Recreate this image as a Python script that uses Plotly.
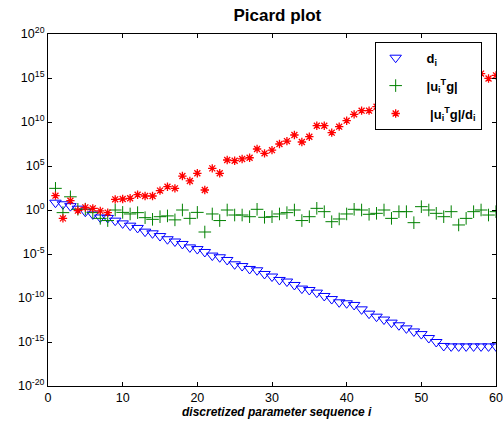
import plotly.graph_objects as go

# parameter index
idx = list(range(1, 61))

# log10 of d_i (singular values)
log10_d = [0.83, 0.65, 0.44, 0.15, -0.2, -0.5, -0.85, -0.9, -1.21, -1.52,
           -1.78, -2.04, -2.46, -2.65, -2.96, -3.32, -3.58, -3.86, -4.25, -4.44,
           -4.77, -5.18, -5.37, -5.68, -6.17, -6.37, -6.7, -6.85, -7.27, -7.56,
           -7.95, -8.13, -8.52, -8.93, -9.09, -9.39, -9.77, -10.12, -10.49, -10.6,
           -10.79, -11.29, -11.78, -12.12, -12.45, -12.8, -13.1, -13.45, -13.8, -14.1,
           -14.55, -15.0, -15.45, -15.5, -15.5, -15.5, -15.5, -15.5, -15.5, -15.5]

# log10 of |u_i^T g|
log10_utg = [2.46, -0.3, 1.5, 0.08, 0.1, -0.3, -0.95, -1.2, 0.0, -0.27,
             -0.45, -0.3, -0.87, -1.06, -0.76, -0.67, -1.12, 0.0, -0.95, -0.27,
             -2.5, -0.45, -1.2, 0.0, -0.57, -0.57, -0.76, 0.08, -0.83, -0.76,
             -0.45, -0.3, 0.0, -1.2, -0.76, 0.19, -0.19, -1.33, -1.02, -0.45,
             0.08, 0.0, -0.49, -0.38, 0.0, -0.95, -0.19, -0.19, -1.44, 0.38,
             0.0, -0.38, -0.76, -0.19, -1.7, -0.95, -0.19, 0.0, -0.57, -0.19]

# log10 of |u_i^T g| / d_i
log10_ratio = [1.63, -0.95, 1.06, -0.07, 0.3, 0.19, -0.1, -0.3, 1.21, 1.25,
               1.33, 1.74, 1.59, 1.59, 2.2, 2.65, 2.46, 3.86, 3.3, 4.17,
               2.27, 4.73, 4.17, 5.68, 5.6, 5.8, 5.94, 6.93, 6.44, 6.8,
               7.5, 7.83, 8.52, 7.73, 8.33, 9.58, 9.58, 8.79, 9.47, 10.15,
               10.87, 11.29, 11.29, 11.74, 12.45, 11.85, 12.9, 13.25, 12.35, 14.5,
               14.55, 14.6, 14.7, 15.3, 13.8, 14.55, 15.3, 15.5, 14.95, 15.3]

d_vals = [10 ** v for v in log10_d]
utg_vals = [10 ** v for v in log10_utg]
ratio_vals = [10 ** v for v in log10_ratio]

x_ticks = [0, 10, 20, 30, 40, 50, 60]
y_exps = [-20, -15, -10, -5, 0, 5, 10, 15, 20]
y_tickvals = [10.0 ** e for e in y_exps]
y_ticktext = ["10<sup>%d</sup>" % e for e in y_exps]

FONT = "Liberation Sans, Arial, sans-serif"

W, H = 503, 425

fig = go.Figure()
fig.add_trace(go.Scatter(
    x=idx, y=d_vals, mode="markers", name="   <b>d<sub>i</sub></b>",
    legendgroup="a",
    marker=dict(symbol="triangle-down-open", size=10, color="rgb(0,0,255)",
                line=dict(width=1, color="rgb(0,0,255)"))))
fig.add_trace(go.Scatter(
    x=idx, y=utg_vals, mode="markers", name="   <b>|u<sub>i</sub><sup>T</sup>g|</b>",
    legendgroup="b",
    marker=dict(symbol="cross-thin-open", size=9, color="rgb(0,128,0)",
                line=dict(width=1, color="rgb(0,128,0)"))))
fig.add_trace(go.Scatter(
    x=idx, y=ratio_vals, mode="markers",
    name="    <b>|u<sub>i</sub><sup>T</sup>g|/d<sub>i</sub></b>",
    legendgroup="c",
    marker=dict(symbol="asterisk-open", size=7, color="rgb(255,0,0)",
                line=dict(width=1.3, color="rgb(255,0,0)"))))

axis_common = dict(showline=True, linecolor="black", linewidth=1, mirror="ticks",
                   ticks="inside", ticklen=4, tickcolor="black", showgrid=False,
                   zeroline=False, automargin=False, ticklabeloverflow="allow",
                   tickfont=dict(family=FONT, size=12.5, color="black"))

fig.update_layout(
    width=W, height=H,
    margin=dict(l=48, r=7, t=34, b=39, autoexpand=False),
    paper_bgcolor="white", plot_bgcolor="white",
    font=dict(family=FONT, color="black"),
    title=dict(text="<b>Picard plot</b>", x=0.512, xref="paper", xanchor="center",
               y=1 - 15 / H, yref="container", yanchor="middle",
               font=dict(family=FONT, size=17, color="black")),
    xaxis=dict(range=[0, 60], tickvals=x_ticks, **axis_common),
    yaxis=dict(type="log", range=[-20, 20], tickvals=y_tickvals, ticktext=y_ticktext,
               **axis_common),
    legend=dict(x=0.968, xanchor="right", y=0.978, yanchor="top",
                bgcolor="white", bordercolor="black", borderwidth=1,
                font=dict(family=FONT, size=13, color="black"),
                traceorder="grouped", tracegroupgap=8),
    showlegend=True,
    annotations=[dict(text="<b><i>discretized parameter sequence i</i></b>",
                      x=0.511, xref="paper", y=-0.073, yref="paper",
                      xanchor="center", yanchor="middle", showarrow=False,
                      font=dict(family=FONT, size=12, color="black"))],
)

fig.write_html("out.html", config={"displayModeBar": False},
               post_script="document.body.style.margin='0';document.body.style.overflow='hidden';")
